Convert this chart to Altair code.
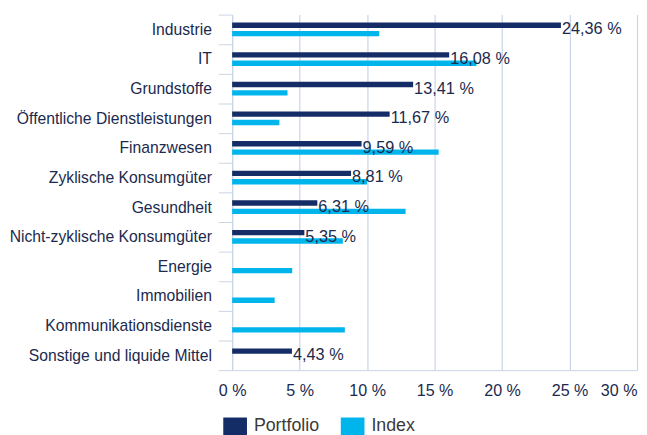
import altair as alt
import pandas as pd

categories = [
    "Industrie", "IT", "Grundstoffe", "Öffentliche Dienstleistungen",
    "Finanzwesen", "Zyklische Konsumgüter", "Gesundheit",
    "Nicht-zyklische Konsumgüter", "Energie", "Immobilien",
    "Kommunikationsdienste", "Sonstige und liquide Mittel",
]
portfolio = [24.36, 16.08, 13.41, 11.67, 9.59, 8.81, 6.31, 5.35, 0, 0, 0, 4.43]
index_vals = [10.9, 18.1, 4.1, 3.5, 15.3, 10.0, 12.85, 8.2, 4.45, 3.15, 8.35, 0]
series = ["Portfolio", "Index"]
colors = ["#142d66", "#00b5ec"]
x_ticks = [0, 5, 10, 15, 20, 25, 30]

rows = []
for c, p, i in zip(categories, portfolio, index_vals):
    rows.append({"cat": c, "series": "Portfolio", "value": p,
                 "label": (f"{p:.2f}".replace(".", ",") + " %") if p > 0 else ""})
    rows.append({"cat": c, "series": "Index", "value": i, "label": ""})
df = pd.DataFrame(rows)

FONT = "Liberation Sans"
TXT = "#1b2a4e"
GRID = "#c9d4e6"

y_enc = alt.Y("cat:N", sort=categories, title=None,
              scale=alt.Scale(paddingInner=0, paddingOuter=0),
              axis=alt.Axis(tickBand="extent", tickSize=14, tickColor=GRID,
                            domainColor=GRID, labelFontSize=15.9, labelColor=TXT,
                            labelFont=FONT, labelPadding=7, labelLimit=0,
                            grid=False))
x_enc = alt.X("value:Q", title=None,
              scale=alt.Scale(domain=[0, 30], nice=False),
              axis=alt.Axis(values=x_ticks, labelExpr="datum.value + ' %'",
                            ticks=False, tickSize=0, domainColor=GRID,
                            gridColor=GRID, gridWidth=1.2, labelFontSize=16.3,
                            labelColor=TXT, labelFont=FONT, labelPadding=13,
                            labelAlign={"condition": {"test": "datum.value >= 30", "value": "right"},
                                        "value": "center"}))

bars = alt.Chart(df).mark_bar(cornerRadius=0).encode(
    y=y_enc,
    x=x_enc,
    yOffset=alt.YOffset("series:N", sort=series,
                        scale=alt.Scale(domain=series, paddingInner=0.35, paddingOuter=0.94)),
    color=alt.Color("series:N", sort=series,
                    scale=alt.Scale(domain=series, range=colors),
                    legend=alt.Legend(title=None, orient="none", legendX=-9, legendY=405,
                                      direction="horizontal",
                                      symbolType="M-1,-0.75H1V0.75H-1Z", symbolSize=576,
                                      symbolStrokeWidth=0, symbolOpacity=1,
                                      labelFontSize=18, labelColor="#3a3a3a", labelFont=FONT,
                                      labelOffset=7, columnPadding=21, padding=0)),
)

labels = alt.Chart(df).transform_filter("datum.label != ''").mark_text(
    align="left", baseline="middle", dx=1, dy=0, fontSize=16.5, font=FONT, color=TXT
).encode(
    y=alt.Y("cat:N", sort=categories),
    x=alt.X("value:Q"),
    text="label:N",
)

chart = alt.layer(bars, labels).properties(
    width=410, height=360,
    autosize=alt.AutoSizeParams(type="none"),
    padding={"left": 227, "top": 4, "right": 2, "bottom": 63},
).configure_view(stroke=None)

chart.save("out.html", embed_options={"renderer": "svg", "actions": False})
